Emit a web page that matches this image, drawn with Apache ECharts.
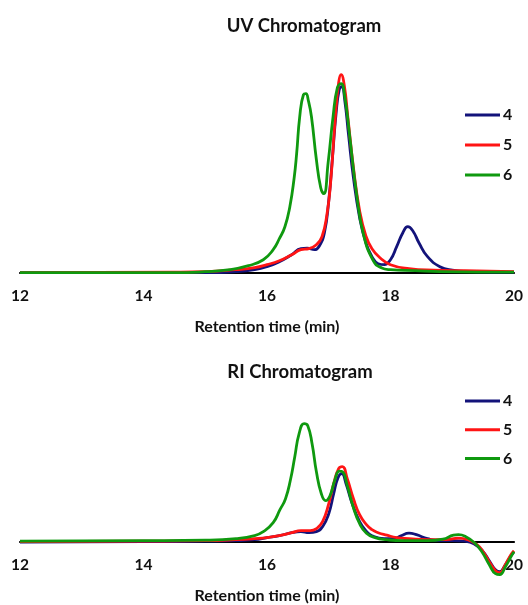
<!DOCTYPE html>
<html>
<head>
<meta charset="utf-8">
<script src="https://cdn.jsdelivr.net/npm/echarts@6/dist/echarts.min.js"></script>
<style>
html,body{margin:0;padding:0;background:#fff;}
#c{width:528px;height:605px;}
</style>
</head>
<body>
<div id="c"></div>
<script>
// ---- Data (retention time [min], detector response [arb. units]) ----
const seriesNames = ['4', '5', '6'];
const xTicks = [12, 14, 16, 18, 20];

const uv4 = [[12,0],[15,0],[15.5,1],[15.8,3],[16.0,6],[16.2,11],[16.4,18],[16.55,24],[16.65,24.5],[16.77,23],[16.85,27],[16.93,40],[17.0,72],[17.06,115],[17.12,160],[17.17,183],[17.21,186],[17.26,172],[17.32,138],[17.4,95],[17.5,55],[17.6,30],[17.7,16],[17.8,9],[17.9,8],[18.0,13],[18.1,26],[18.2,40],[18.28,46],[18.36,42],[18.46,30],[18.6,16],[18.8,6],[19.0,2.5],[19.3,1],[20,0.5]];
const uv5 = [[12,0],[14.5,0.5],[15.0,1],[15.5,3],[15.8,5],[16.0,8],[16.2,12],[16.4,18],[16.55,23],[16.68,24],[16.8,28],[16.89,36],[16.97,58],[17.03,90],[17.1,150],[17.16,190],[17.2,198],[17.25,188],[17.31,155],[17.4,105],[17.5,62],[17.6,37],[17.7,24],[17.83,15],[18.0,8],[18.3,4],[18.7,2.5],[19.2,2],[19.6,1.5],[20,1]];
const uv6 = [[12,0],[14.5,0],[15.0,1],[15.4,3],[15.7,7],[15.94,13],[16.1,23],[16.2,34],[16.29,46],[16.37,66],[16.44,95],[16.48,119],[16.53,156],[16.59,178],[16.63,179],[16.67,172],[16.72,156],[16.8,113],[16.87,85],[16.92,79],[16.99,110],[17.07,156],[17.14,185],[17.2,189],[17.26,176],[17.34,136],[17.45,79],[17.56,39],[17.72,12],[17.85,5],[18.0,3],[18.4,2],[18.8,1],[20,0.5]];

const ri4 = [[12,-0.5],[14,0],[15,0.5],[15.5,1],[15.8,2],[16.0,4],[16.2,6],[16.4,9],[16.55,10],[16.68,9],[16.8,10],[16.9,15],[17.0,28],[17.08,48],[17.15,64],[17.21,68],[17.28,58],[17.38,38],[17.5,20],[17.6,11],[17.7,6],[17.9,3],[18.05,3],[18.17,6],[18.3,8.5],[18.42,7],[18.6,3],[18.8,1],[19.0,1],[19.2,0.5],[19.35,-2],[19.5,-10],[19.6,-19],[19.7,-28],[19.77,-30],[19.85,-24],[19.95,-14],[20,-10]];
const ri5 = [[12,0],[14,0.5],[15,1],[15.5,2],[15.8,3],[16.0,4],[16.2,6],[16.4,9],[16.55,11],[16.7,11],[16.8,13],[16.9,20],[17.0,38],[17.08,58],[17.16,73],[17.22,75],[17.3,63],[17.4,43],[17.5,27],[17.61,17],[17.7,12],[17.8,9],[17.94,6.5],[18.1,4],[18.3,3],[18.6,2],[18.9,2],[19.1,3.5],[19.25,2],[19.4,-3],[19.5,-10],[19.6,-20],[19.7,-29],[19.77,-31],[19.85,-24],[19.95,-13],[20,-9]];
const ri6 = [[12,0.5],[14,1],[15,1.5],[15.5,3],[15.8,6],[15.94,10],[16.1,19],[16.21,32],[16.3,43],[16.38,62],[16.45,85],[16.52,108],[16.6,118],[16.66,116],[16.73,98],[16.8,70],[16.88,48],[16.95,41],[17.02,46],[17.1,62],[17.17,70.5],[17.22,70],[17.3,56],[17.4,34],[17.5,18],[17.61,8.5],[17.75,4],[17.94,2],[18.2,1],[18.6,1],[18.85,2.5],[19.02,6.5],[19.1,7],[19.22,5],[19.36,-1],[19.48,-10],[19.6,-23],[19.7,-32],[19.77,-33],[19.86,-25],[19.95,-15],[20,-10]];

const colors = ['#13137a', '#ff1414', '#0f990f'];

// ---- Chart ----
const chart = echarts.init(document.getElementById('c'), null, {renderer: 'canvas'});
const FONT = 'Lato, "Open Sans", "Liberation Sans", sans-serif';

function xAxisCfg(gridIndex) {
  return {
    type: 'value', gridIndex: gridIndex, min: 12, max: 20, interval: 2,
    axisLine: {show: true, onZero: false, lineStyle: {color: '#000', width: 2.2}},
    axisTick: {show: false},
    splitLine: {show: false},
    axisLabel: {
      margin: 15, color: '#111', fontSize: 15.5, fontWeight: 'bold', fontFamily: FONT,
      customValues: xTicks
    },
    name: 'Retention time (min)', nameLocation: 'middle', nameGap: 46,
    nameTextStyle: {color: '#111', fontSize: 16, fontWeight: 'bold', fontFamily: FONT}
  };
}
function yAxisCfg(gridIndex, min, max) {
  return {
    type: 'value', gridIndex: gridIndex, min: min, max: max, show: false,
    axisLine: {show: false}, splitLine: {show: false}
  };
}
function lineSeries(name, data, idx, gridIdx) {
  return {
    name: name, type: 'line', data: data,
    xAxisIndex: gridIdx, yAxisIndex: gridIdx,
    smooth: 0.5, symbol: 'none', clip: false,
    lineStyle: {color: colors[idx], width: 2.8},
    itemStyle: {color: colors[idx]},
    z: 3 + idx
  };
}
function legendCfg(top, gap) {
  return {
    data: seriesNames, orient: 'vertical', left: 460, top: top,
    itemWidth: 35, itemHeight: 3, itemGap: gap, icon: 'rect',
    textStyle: {color: '#111', fontSize: 16, fontWeight: 'bold', fontFamily: FONT, lineHeight: 16, padding: [0,0,0,-2]},
    selectedMode: false
  };
}

const option = {
  backgroundColor: '#fff',
  animation: false,
  grid: [
    {left: 20, right: 14, top: 22.7, height: 250, outerBoundsMode: 'none', containLabel: false},
    {left: 20, right: 14, top: 381.7, height: 160, outerBoundsMode: 'none', containLabel: false}
  ],
  xAxis: [xAxisCfg(0), xAxisCfg(1)],
  yAxis: [yAxisCfg(0, 0, 250), yAxisCfg(1, 0, 160)],
  legend: [legendCfg(102, 14), legendCfg(388, 12.7)],
  graphic: [
    {type: 'text', x: 304, y: 26, style: {text: 'UV Chromatogram', fill: '#111', font: 'bold 18.5px ' + FONT, textAlign: 'center', textVerticalAlign: 'middle'}},
    {type: 'text', x: 300, y: 372, style: {text: 'RI Chromatogram', fill: '#111', font: 'bold 18.5px ' + FONT, textAlign: 'center', textVerticalAlign: 'middle'}}
  ],
  series: [
    lineSeries('4', uv4, 0, 0),
    lineSeries('5', uv5, 1, 0),
    lineSeries('6', uv6, 2, 0),
    lineSeries('4', ri4, 0, 1),
    lineSeries('5', ri5, 1, 1),
    lineSeries('6', ri6, 2, 1)
  ]
};
chart.setOption(option);
</script>
</body>
</html>
